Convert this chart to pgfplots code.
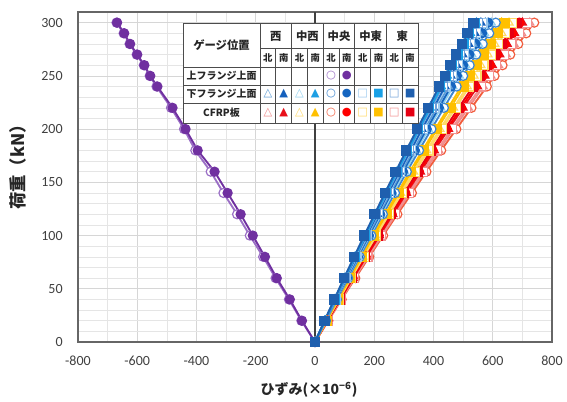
\documentclass[border=0pt]{standalone}
\usepackage{pgfplots}
\pgfplotsset{compat=1.18}
\usepackage{pgfplotstable}
\usepackage{fontspec}
\setmainfont{Carlito}
\newfontfamily\jp{Noto Sans CJK JP}
\newfontfamily\sym{DejaVu Sans}

\definecolor{pur}{HTML}{7030A0}
\definecolor{purL}{HTML}{9B6FC6}
% bottom flange (blue tones)
\definecolor{bWN}{HTML}{5B9BD5}
\definecolor{bWS}{HTML}{1560BD}
\definecolor{bMWN}{HTML}{8FD0F0}
\definecolor{bMWS}{HTML}{1E9FE3}
\definecolor{bCN}{HTML}{3E86CF}
\definecolor{bCS}{HTML}{1565C0}
\definecolor{bMEN}{HTML}{9CC9EE}
\definecolor{bMES}{HTML}{18A0E6}
\definecolor{bEN}{HTML}{6FA0D8}
\definecolor{bES}{HTML}{1F5FAE}
% CFRP (red / yellow tones)
\definecolor{rWN}{HTML}{F08A8A}
\definecolor{rWS}{HTML}{E8101A}
\definecolor{rMWN}{HTML}{FFD966}
\definecolor{rMWS}{HTML}{FFC000}
\definecolor{rCN}{HTML}{F25C3C}
\definecolor{rCS}{HTML}{FF0000}
\definecolor{rMEN}{HTML}{FFD966}
\definecolor{rMES}{HTML}{FFC000}
\definecolor{rEN}{HTML}{F39090}
\definecolor{rES}{HTML}{E60012}

\pgfplotstableread{
P   cn    cs
0   0     0
20  -46   -44
40  -88   -85
60  -133  -129
80  -175  -169
100 -220  -210
120 -263  -251
140 -309  -295
160 -352  -339
180 -404  -396
200 -442  -437
220 -486  -481
240 -535  -532
250 -558  -556
260 -578  -576
270 -602  -600
280 -626  -624
290 -646  -644
300 -670  -668
}\topflange

\pgfplotstableread{
P   wn  ws  mwn mws cn  cs  men mes en  es
0   0   0   0   0   0   0   0   0   0   0
20  35  34  36  33  37  35  34  33  33  32
40  70  68  72  66  74  71  69  66  67  65
60  106 103 109 100 112 108 104 99  101 98
80  142 138 147 135 151 145 140 133 136 132
100 179 174 185 170 190 182 176 168 171 166
120 216 211 224 205 229 220 212 203 207 201
140 254 247 263 241 270 258 250 239 243 236
160 292 285 303 277 310 297 287 275 280 272
180 331 323 343 314 351 337 325 311 317 308
200 371 361 383 351 393 377 364 348 354 345
220 410 400 425 389 435 418 403 385 393 382
240 451 439 466 427 478 459 443 423 431 419
250 471 459 488 447 500 479 463 442 451 438
260 492 479 509 466 522 500 483 462 470 457
270 512 499 530 486 544 521 503 481 490 477
280 533 519 552 505 566 542 524 501 510 496
290 554 540 573 525 588 564 544 520 530 515
300 575 560 595 545 610 585 565 540 550 535
}\bottomflange

\pgfplotstableread{
P   wn  ws  mwn mws cn  cs  men mes en  es
0   0   0   0   0   0   0   0   0   0   0
20  44  42  40  38  45  42  40  39  43  41
40  88  85  80  77  90  84  81  78  87  83
60  133 129 121 116 136 127 122 118 132 125
80  179 173 162 156 183 171 164 158 177 168
100 226 218 204 196 230 215 207 199 222 212
120 273 263 246 237 278 259 250 241 269 256
140 320 309 289 278 327 305 294 283 316 300
160 369 356 333 320 376 351 338 325 364 346
180 418 403 377 363 426 397 383 369 412 392
200 467 451 422 406 477 445 429 412 461 438
220 518 500 468 450 528 493 475 457 510 485
240 568 549 514 494 580 541 521 502 561 533
250 594 574 537 516 606 565 545 524 586 557
260 620 599 560 539 633 590 569 547 611 581
270 646 624 584 561 659 615 593 570 637 606
280 672 649 607 584 686 640 617 593 663 630
290 698 674 631 607 713 665 641 617 689 655
300 725 700 655 630 740 690 665 640 715 680
}\cfrp

\pgfplotsset{
  ser/.style n args={3}{draw=#1, line width=1.4pt, mark=#2, mark size=3.4pt,
     mark options={solid, draw=#1, fill=#3, line width=0.9pt}},
}

\begin{document}
\begin{tikzpicture}
\path[use as bounding box] (0,0) rectangle (425.25pt,300.75pt);
\begin{axis}[
  at={(58.5pt,44.25pt)}, anchor=south west,
  scale only axis, width=355.5pt, height=247.5pt,
  xmin=-800, xmax=800, ymin=0, ymax=310,
  xtick={-800,-600,-400,-200,0,200,400,600,800},
  xticklabels={-800,-600,-400,-200,0,200,400,600,800},
  minor xtick={-700,-500,-300,-100,100,300,500,700},
  ytick={0,50,100,150,200,250,300},
  yticklabels={0,50,100,150,200,250,300},
  minor ytick={10,20,30,40,60,70,80,90,110,120,130,140,160,170,180,190,210,220,230,240,260,270,280,290,310},
  grid=both,
  major grid style={black!16, line width=0.5pt},
  minor grid style={black!10, line width=0.4pt},
  tick style={draw=none},
  axis line style={black!60, line width=0.9pt},
  ticklabel style={font=\fontsize{10.5}{12}\selectfont, text=black!75},
  xticklabel shift=7pt,
  yticklabel shift=8pt,
  axis on top=false,
  clip=false,
]
\draw[black!75, line width=0.9pt] (axis cs:0,0) -- (axis cs:0,310);

% top flange (centre)
\addplot[ser={purL}{*}{white}] table[x=cn, y=P] {\topflange};
\addplot[ser={pur}{*}{pur}] table[x=cs, y=P] {\topflange};

% CFRP
\addplot[ser={rCN}{*}{white}] table[x=cn, y=P] {\cfrp};
\addplot[ser={rWN}{triangle*}{white}] table[x=wn, y=P] {\cfrp};
\addplot[ser={rEN}{square*}{white}] table[x=en, y=P] {\cfrp};
\addplot[ser={rWS}{triangle*}{rWS}] table[x=ws, y=P] {\cfrp};
\addplot[ser={rCS}{*}{rCS}] table[x=cs, y=P] {\cfrp};
\addplot[ser={rES}{square*}{rES}] table[x=es, y=P] {\cfrp};
\addplot[ser={rMEN}{square*}{white}] table[x=men, y=P] {\cfrp};
\addplot[ser={rMWN}{triangle*}{white}] table[x=mwn, y=P] {\cfrp};
\addplot[ser={rMES}{square*}{rMES}] table[x=mes, y=P] {\cfrp};
\addplot[ser={rMWS}{triangle*}{rMWS}] table[x=mws, y=P] {\cfrp};

% bottom flange
\addplot[ser={bCN}{*}{white}] table[x=cn, y=P] {\bottomflange};
\addplot[ser={bMWN}{triangle*}{white}] table[x=mwn, y=P] {\bottomflange};
\addplot[ser={bCS}{*}{bCS}] table[x=cs, y=P] {\bottomflange};
\addplot[ser={bWN}{triangle*}{white}] table[x=wn, y=P] {\bottomflange};
\addplot[ser={bMEN}{square*}{white}] table[x=men, y=P] {\bottomflange};
\addplot[ser={bWS}{triangle*}{bWS}] table[x=ws, y=P] {\bottomflange};
\addplot[ser={bEN}{square*}{white}] table[x=en, y=P] {\bottomflange};
\addplot[ser={bMWS}{triangle*}{bMWS}] table[x=mws, y=P] {\bottomflange};
\addplot[ser={bMES}{square*}{bMES}] table[x=mes, y=P] {\bottomflange};
\addplot[ser={bES}{square*}{bES}] table[x=es, y=P] {\bottomflange};
\end{axis}

\begin{scope}[x=0.75pt, y=-0.75pt, shift={(0,300.75pt)}]
  % axis titles
  \node[rotate=90, font=\jp\bfseries\fontsize{13}{15}\selectfont, text=black!85] at (18,163) {荷重（kN）};
  \node[font=\jp\bfseries\fontsize{10.5}{12}\selectfont, text=black!85] at (309,390) {ひずみ(×10\textsuperscript{−6})};

  % legend table
  \fill[white] (183,23) rectangle (418,123);
  \draw[black!70, line width=0.6pt] (183,23) rectangle (418,123);
  \draw[black!70, line width=0.6pt] (260,48) -- (418,48);
  \draw[black!70, line width=0.6pt] (183,67) -- (418,67);
  \draw[black!70, line width=0.6pt] (183,85) -- (418,85);
  \draw[black!70, line width=0.6pt] (183,103) -- (418,103);
  \foreach \xx in {260,291.6,323.2,354.8,386.4}
    \draw[black!70, line width=0.6pt] (\xx,23) -- (\xx,123);
  \foreach \xx in {275.8,307.4,339,370.6,402.2}
    \draw[black!70, line width=0.6pt] (\xx,48) -- (\xx,123);

  \begin{scope}[every node/.style={font=\jp\bfseries\fontsize{8.5}{10}\selectfont, text=black!85, inner sep=0pt}]
    \node at (221.5,45) {ゲージ位置};
    \node at (275.8,36) {西};
    \node at (307.4,36) {中西};
    \node at (339,36) {中央};
    \node at (370.6,36) {中東};
    \node at (402.2,36) {東};
  \end{scope}
  \begin{scope}[every node/.style={font=\jp\bfseries\fontsize{7}{8}\selectfont, text=black!85, inner sep=0pt}]
    \foreach \xx in {267.9,299.5,331.1,362.7,394.3} \node at (\xx,57.5) {北};
    \foreach \xx in {283.7,315.3,346.9,378.5,410.1} \node at (\xx,57.5) {南};
  \end{scope}
  \begin{scope}[every node/.style={font=\jp\bfseries\fontsize{7.5}{9}\selectfont, text=black!85, inner sep=0pt}]
    \node at (221.5,76) {上フランジ上面};
    \node at (221.5,94) {下フランジ上面};
    \node at (221.5,113) {CFRP板};
  \end{scope}
  \begin{scope}[every node/.style={font=\sym\fontsize{8.5}{10}\selectfont, inner sep=0pt}]
    % top flange
    \node[text=purL] at (331.1,76) {○};
    \node[text=pur]  at (346.9,76) {●};
    % bottom flange
    \node[text=bWN]  at (267.9,94) {△};
    \node[text=bWS]  at (283.7,94) {▲};
    \node[text=bMWN] at (299.5,94) {△};
    \node[text=bMWS] at (315.3,94) {▲};
    \node[text=bCN]  at (331.1,94) {○};
    \node[text=bCS]  at (346.9,94) {●};
    \node[text=bMEN] at (362.7,94) {□};
    \node[text=bMES] at (378.5,94) {■};
    \node[text=bEN]  at (394.3,94) {□};
    \node[text=bES]  at (410.1,94) {■};
    % CFRP
    \node[text=rWN]  at (267.9,113) {△};
    \node[text=rWS]  at (283.7,113) {▲};
    \node[text=rMWN] at (299.5,113) {△};
    \node[text=rMWS] at (315.3,113) {▲};
    \node[text=rCN]  at (331.1,113) {○};
    \node[text=rCS]  at (346.9,113) {●};
    \node[text=rMEN] at (362.7,113) {□};
    \node[text=rMES] at (378.5,113) {■};
    \node[text=rEN]  at (394.3,113) {□};
    \node[text=rES]  at (410.1,113) {■};
  \end{scope}
\end{scope}
\end{tikzpicture}
\end{document}
